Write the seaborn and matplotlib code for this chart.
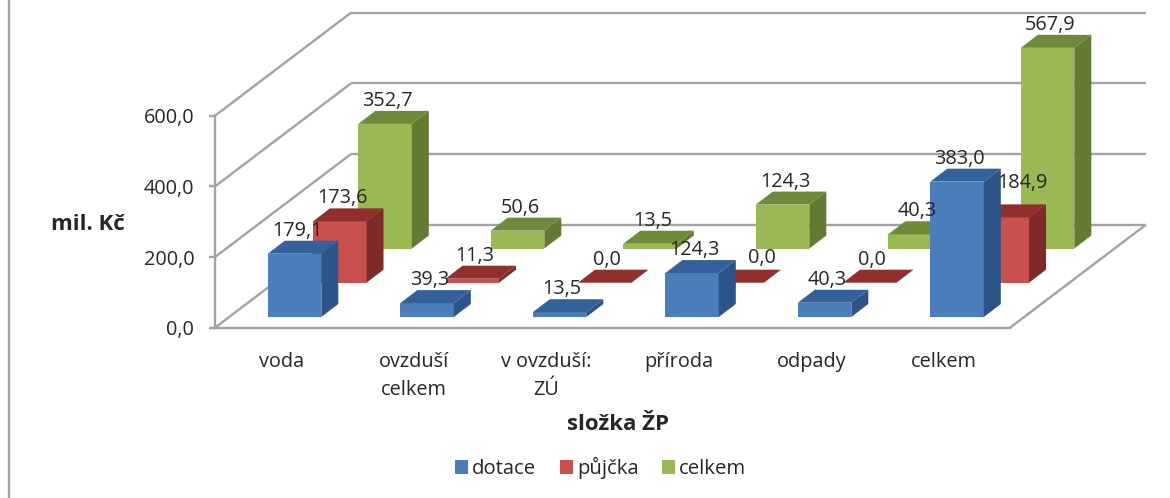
"""Podpora podle složek ŽP - sloupcový graf s 3D vzhledem."""
import matplotlib.pyplot as plt
import pandas as pd
import seaborn as sns
from matplotlib.lines import Line2D
from matplotlib.patches import Patch, Polygon

slozky = ["voda", "ovzduší\ncelkem", "v ovzduší:\nZÚ", "příroda", "odpady", "celkem"]
dotace = [179.1, 39.3, 13.5, 124.3, 40.3, 383.0]
pujcka = [173.6, 11.3, 0.0, 0.0, 0.0, 184.9]
celkem = [352.7, 50.6, 13.5, 124.3, 40.3, 567.9]
y_ticks = [0, 200, 400, 600]

# barvy: čelo, bok, vršek
BARVY = {
    "dotace": ("#4a7ebb", "#2c5487", "#33619a"),
    "půjčka": ("#c8514e", "#7f2a28", "#8f302d"),
    "celkem": ("#98b954", "#637a32", "#6e8b3a"),
}
GRAY = "#a3a3a3"
TEXT = "#262626"
FS = 14.3
FS_BOLD = 16

W, H = 1170, 498
X0, X1, Y0, Y600 = 215, 1010, 327.7, 115.7
PX_X = (X1 - X0) / 6  # pixelů na kategorii
PX_Y = (Y0 - Y600) / 600  # pixelů na mil. Kč


def dx(px):
    return px / PX_X


def dy(px):
    return px / PX_Y


# hloubka v pixelech
HLOUBKA = (136, 103)
SLOUPEC = (17, 13)
POSUN = {"dotace": (13.3, 10.7), "půjčka": (58.5, 45), "celkem": (103.8, 79.2)}
# ručně posunuté popisky
POSUN_POPISKU = {("půjčka", 3): (22, 2), ("půjčka", 5): (18, 11)}

sns.set_theme(style="white")
plt.rcParams["font.family"] = ["Open Sans", "DejaVu Sans"]

df = pd.DataFrame({
    "slozka": slozky * 3,
    "serie": ["dotace"] * 6 + ["půjčka"] * 6 + ["celkem"] * 6,
    "hodnota": dotace + pujcka + celkem,
})

fig = plt.figure(figsize=(W / 100, H / 100), dpi=100)
ax = fig.add_axes([X0 / W, 1 - Y0 / H, (X1 - X0) / W, (Y0 - Y600) / H])

# vykreslení odzadu dopředu
for z, serie in enumerate(["celkem", "půjčka", "dotace"], start=3):
    celo, bok, vrsek = BARVY[serie]
    sub = df[df["serie"] == serie]
    sns.barplot(data=sub, x="slozka", y="hodnota", color=celo, saturation=1,
                width=53.5 / PX_X, errorbar=None, linewidth=0, ax=ax)
    ox, oy = POSUN[serie]
    for i, (patch, v) in enumerate(zip(ax.containers[-1], sub["hodnota"])):
        patch.set_x(patch.get_x() + dx(ox))
        patch.set_y(dy(oy))
        patch.set_clip_on(False)
        patch.set_zorder(z)
        x_a = patch.get_x()
        x_b = x_a + patch.get_width()
        y_a = patch.get_y()
        y_b = y_a + v
        sx, sy = dx(SLOUPEC[0]), dy(SLOUPEC[1])
        ax.add_patch(Polygon([(x_b, y_a), (x_b + sx, y_a + sy), (x_b + sx, y_b + sy), (x_b, y_b)],
                             facecolor=bok, edgecolor="none", clip_on=False, zorder=z))
        ax.add_patch(Polygon([(x_a, y_b), (x_b, y_b), (x_b + sx, y_b + sy), (x_a + sx, y_b + sy)],
                             facecolor=vrsek, edgecolor="none", clip_on=False, zorder=z))
        # popisek nad sloupcem
        px, py = POSUN_POPISKU.get((serie, i), (0, 0))
        ax.text(x_a + patch.get_width() / 2 + dx(2.5 + px), y_b + sy + dy(10 + py),
                f"{v:.1f}".replace(".", ","), ha="center", va="center",
                fontsize=FS, color=TEXT, zorder=10)

ax.set_xlim(-0.5, 5.5)
ax.set_ylim(0, 600)

# stěny a podlaha
hx, hy = dx(HLOUBKA[0]), dy(HLOUBKA[1])
car = dict(color=GRAY, lw=1.7, clip_on=False, zorder=1, solid_capstyle="butt")
for v in y_ticks:
    ax.plot([-0.5, -0.5 + hx], [v, v + hy], **car)
    ax.plot([-0.5 + hx, 5.5 + hx], [v + hy, v + hy], **car)
ax.plot([5.5, 5.5 + hx], [0, hy], **car)

sns.despine(ax=ax)
for s in ["left", "bottom"]:
    ax.spines[s].set_color(GRAY)
    ax.spines[s].set_linewidth(1.7)

ax.set_yticks(y_ticks)
ax.set_yticklabels([f"{v:.1f}".replace(".", ",") for v in y_ticks])
ax.tick_params(axis="y", length=4.5, width=1.7, color=GRAY, left=True,
               labelsize=FS, labelcolor=TEXT, pad=10.5)
ax.tick_params(axis="x", length=0, labelsize=FS, labelcolor=TEXT, pad=17.5)
for lab in ax.get_xticklabels():
    lab.set_linespacing(1.5)

ax.set_xlabel("složka ŽP", fontsize=FS_BOLD, fontweight="bold", color=TEXT)
ax.xaxis.set_label_coords((618 - X0) / (X1 - X0), -(424 - Y0) / (Y0 - Y600), transform=ax.transAxes)
ax.xaxis.label.set_va("center")
ax.set_ylabel("mil. Kč", fontsize=FS_BOLD, fontweight="bold", color=TEXT, rotation=0, ha="center", va="center")
ax.yaxis.set_label_coords((87.5 - X0) / (X1 - X0), (Y0 - 224) / (Y0 - Y600), transform=ax.transAxes)

handles = [Patch(facecolor=BARVY[s][0], edgecolor="none", label=s) for s in ["dotace", "půjčka", "celkem"]]
fig.legend(handles=handles, loc="center", bbox_to_anchor=(600.5 / W, 1 - 468 / H), ncol=3,
           frameon=False, fontsize=14.6, labelcolor=TEXT, handlelength=0.65, handleheight=0.65,
           handletextpad=0.2, columnspacing=1.15, borderpad=0)

# levý okraj rámečku
fig.add_artist(Line2D([9 / W, 9 / W], [0, 1], color=GRAY, lw=1.7))

fig.savefig("out.png", dpi=100)
plt.close(fig)
